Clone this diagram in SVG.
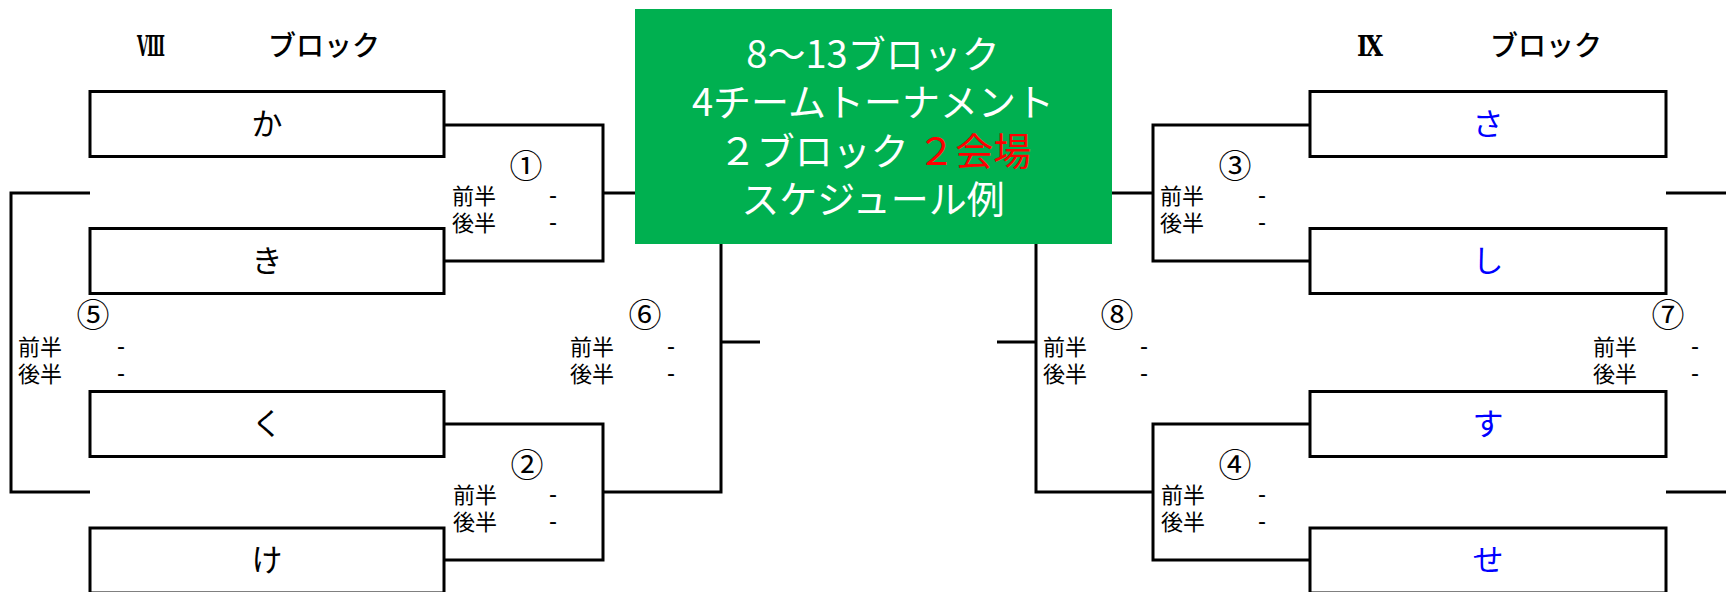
<svg xmlns="http://www.w3.org/2000/svg" width="1726" height="592" viewBox="0 0 1726 592">
<style>
.bg{fill:#ffffff}
.box{fill:#ffffff;stroke:#000000;stroke-width:3}
.ln{fill:none;stroke:#000000;stroke-width:3}
.team{font-family:"Noto Sans CJK JP","Noto Sans",sans-serif;font-size:31px;text-anchor:middle}
.blk{fill:#000000}
.blu{fill:#0000FF}
.hdr{font-family:"Noto Sans CJK JP",sans-serif;font-size:28px;font-weight:500;fill:#000000}
.rom{font-family:"DejaVu Serif","Noto Sans CJK JP",serif;font-size:28px;font-weight:bold;fill:#000000}
.num{font-family:"Noto Sans CJK JP",sans-serif;font-size:33px;fill:#000000;text-anchor:middle}
.half{font-family:"Noto Sans CJK JP",sans-serif;font-size:22px;fill:#000000}
.dash{font-family:"Liberation Sans",sans-serif;font-size:24px;fill:#000000;text-anchor:middle}
.ttl{font-family:"Noto Sans CJK JP",sans-serif;font-size:38px;fill:#ffffff;text-anchor:middle}
.red{fill:#FF0000}
</style>
<rect class="bg" x="0" y="0" width="1726" height="592"/>
<g id="connectors">
<path class="ln" d="M444,125 H603 V261 H444"/>
<path class="ln" d="M444,424 H603 V560 H444"/>
<path class="ln" d="M603,193 H721 V492 H603"/>
<path class="ln" d="M721,342 H760"/>
<path class="ln" d="M90,193 H11 V492 H90"/>
<path class="ln" d="M1310,125 H1153 V261 H1310"/>
<path class="ln" d="M1310,424 H1153 V560 H1310"/>
<path class="ln" d="M1153,193 H1036 V492 H1153"/>
<path class="ln" d="M1036,342 H997"/>
<path class="ln" d="M1666,193 H1726"/>
<path class="ln" d="M1666,492 H1726"/>
</g>
<g id="title">
<rect x="635" y="9" width="477" height="235" fill="#00B050"/>
<text class="ttl" x="873" y="68">8～13ブロック</text>
<text class="ttl" x="873" y="116">4チームトーナメント</text>
<text class="ttl" x="875" y="165">２ブロック <tspan class="red">２会場</tspan></text>
<text class="ttl" x="873" y="213">スケジュール例</text>
</g>
<g id="header-8">
<text class="rom" x="137" y="56" textLength="28" lengthAdjust="spacingAndGlyphs">Ⅷ</text>
<text class="hdr" x="268" y="56">ブロック</text>
</g>
<g id="header-9">
<text class="rom" x="1357" y="56" textLength="26" lengthAdjust="spacingAndGlyphs">Ⅸ</text>
<text class="hdr" x="1490" y="56">ブロック</text>
</g>
<g id="team-ka"><rect class="box" x="90" y="91.5" width="354" height="65"/><text class="team blk" x="267" y="135">か</text></g>
<g id="team-ki"><rect class="box" x="90" y="228.5" width="354" height="65"/><text class="team blk" x="267" y="272">き</text></g>
<g id="team-ku"><rect class="box" x="90" y="391.5" width="354" height="65"/><text class="team blk" x="267" y="435">く</text></g>
<g id="team-ke"><rect class="box" x="90" y="528" width="354" height="65"/><text class="team blk" x="267" y="571">け</text></g>
<g id="team-sa"><rect class="box" x="1310" y="91.5" width="356" height="65"/><text class="team blu" x="1488" y="135">さ</text></g>
<g id="team-shi"><rect class="box" x="1310" y="228.5" width="356" height="65"/><text class="team blu" x="1488" y="272">し</text></g>
<g id="team-su"><rect class="box" x="1310" y="391.5" width="356" height="65"/><text class="team blu" x="1488" y="435">す</text></g>
<g id="team-se"><rect class="box" x="1310" y="528" width="356" height="65"/><text class="team blu" x="1488" y="571">せ</text></g>
<g id="match-1"><text class="num" x="526" y="178">①</text><text class="half" x="452" y="204">前半</text><text class="half" x="452" y="231">後半</text><text class="dash" x="553" y="203">-</text><text class="dash" x="553" y="230">-</text></g>
<g id="match-2"><text class="num" x="527" y="477">②</text><text class="half" x="453" y="503">前半</text><text class="half" x="453" y="530">後半</text><text class="dash" x="553" y="502">-</text><text class="dash" x="553" y="529">-</text></g>
<g id="match-5"><text class="num" x="93" y="327">⑤</text><text class="half" x="18" y="355">前半</text><text class="half" x="18" y="382">後半</text><text class="dash" x="121" y="354">-</text><text class="dash" x="121" y="381">-</text></g>
<g id="match-6"><text class="num" x="645" y="327">⑥</text><text class="half" x="570" y="355">前半</text><text class="half" x="570" y="382">後半</text><text class="dash" x="671" y="354">-</text><text class="dash" x="671" y="381">-</text></g>
<g id="match-3"><text class="num" x="1235" y="178">③</text><text class="half" x="1160" y="204">前半</text><text class="half" x="1160" y="231">後半</text><text class="dash" x="1262" y="203">-</text><text class="dash" x="1262" y="230">-</text></g>
<g id="match-4"><text class="num" x="1235" y="477">④</text><text class="half" x="1161" y="503">前半</text><text class="half" x="1161" y="530">後半</text><text class="dash" x="1262" y="502">-</text><text class="dash" x="1262" y="529">-</text></g>
<g id="match-8"><text class="num" x="1117" y="327">⑧</text><text class="half" x="1043" y="355">前半</text><text class="half" x="1043" y="382">後半</text><text class="dash" x="1144" y="354">-</text><text class="dash" x="1144" y="381">-</text></g>
<g id="match-7"><text class="num" x="1668" y="327">⑦</text><text class="half" x="1593" y="355">前半</text><text class="half" x="1593" y="382">後半</text><text class="dash" x="1695" y="354">-</text><text class="dash" x="1695" y="381">-</text></g>
</svg>
